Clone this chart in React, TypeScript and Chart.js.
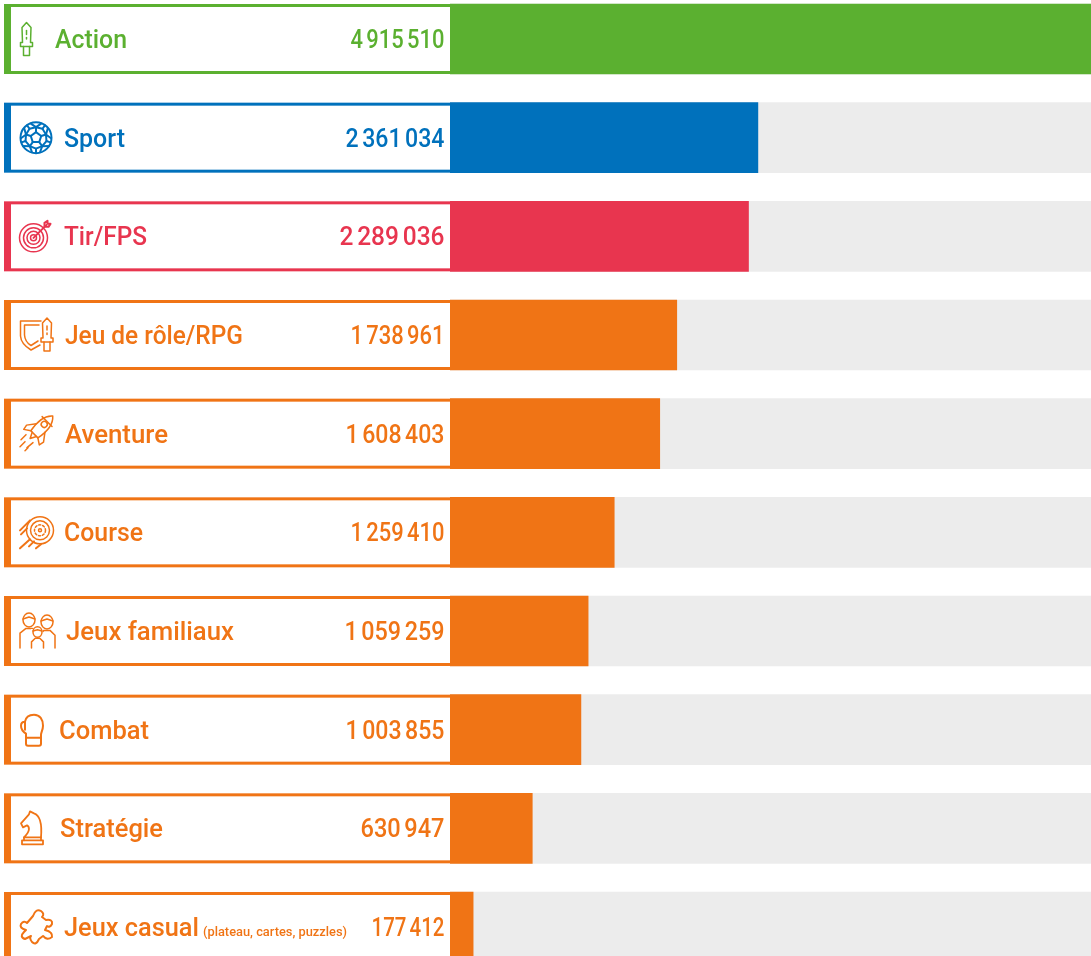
import React, { useEffect, useRef } from "react";
import { Chart, registerables } from "chart.js";

Chart.register(...registerables);

const categories = ["Action", "Sport", "Tir/FPS", "Jeu de rôle/RPG", "Aventure", "Course", "Jeux familiaux", "Combat", "Stratégie", "Jeux casual"];
const players = [4915510, 2361034, 2289036, 1738961, 1608403, 1259410, 1059259, 1003855, 630947, 177412];
const valueLabels = ["4 915 510", "2 361 034", "2 289 036", "1 738 961", "1 608 403", "1 259 410", "1 059 259", "1 003 855", "630 947", "177 412"];
const casualNote = "(plateau, cartes, puzzles)";
const trackMaximum = 4915510;

const GREEN = "#5bb030";
const BLUE = "#0071bc";
const RED = "#e8354f";
const ORANGE = "#f07415";
const TRACK = "#ececec";
const rowColors = [GREEN, BLUE, RED, ORANGE, ORANGE, ORANGE, ORANGE, ORANGE, ORANGE, ORANGE];

// text layout: [x, width]
const labelBoxes = [[55, 72], [64, 61], [64, 83], [65, 178], [65, 103], [64, 79], [66, 168], [59, 90], [60, 103], [64, 135]];
const valueWidths = [94, 99, 105, 94, 99, 94, 100, 99, 84, 73];
const FONT = "Roboto";

type C = CanvasRenderingContext2D;

function fitText(ctx: C, text: string, x: number, y: number, width: number, font: string, wordSpacing = "0px") {
  ctx.save();
  ctx.font = font;
  (ctx as any).wordSpacing = wordSpacing;
  const w = ctx.measureText(text).width;
  ctx.translate(x, y);
  ctx.scale(width / w, 1);
  ctx.textAlign = "left";
  ctx.textBaseline = "alphabetic";
  ctx.fillText(text, 0, 0);
  ctx.restore();
}

function poly(ctx: C, pts: number[][], close = false) {
  ctx.beginPath();
  pts.forEach((p, i) => (i ? ctx.lineTo(p[0], p[1]) : ctx.moveTo(p[0], p[1])));
  if (close) ctx.closePath();
  ctx.stroke();
}
function circle(ctx: C, x: number, y: number, r: number) {
  ctx.beginPath();
  ctx.arc(x, y, r, 0, Math.PI * 2);
  ctx.stroke();
}

function sword(ctx: C, cx: number, t: number) {
  poly(ctx, [[cx, t], [cx + 4.5, t + 5], [cx + 4, t + 20], [cx + 6, t + 20], [cx + 6, t + 24], [cx - 6, t + 24], [cx - 6, t + 20], [cx - 4, t + 20], [cx - 4.5, t + 5]], true);
  poly(ctx, [[cx - 3, t + 24], [cx - 3, t + 33], [cx + 3, t + 33], [cx + 3, t + 24]]);
  poly(ctx, [[cx, t + 8], [cx, t + 12]]);
  poly(ctx, [[cx, t + 15], [cx, t + 16.5]]);
}
function ball(ctx: C, cx: number, cy: number) {
  ctx.save();
  ctx.lineWidth = 2;
  circle(ctx, cx, cy, 15.5);
  const at = (r: number, k: number) => {
    const a = -Math.PI / 2 + (k * 2 * Math.PI) / 5;
    return [cx + r * Math.cos(a), cy + r * Math.sin(a)];
  };
  poly(ctx, [0, 1, 2, 3, 4].map((k) => at(5.5, k)), true);
  for (let k = 0; k < 5; k++) {
    poly(ctx, [at(5.5, k), at(10.5, k)]);
    const a = at(10.5, k);
    poly(ctx, [at(15, k - 0.28), a, at(15, k + 0.28)]);
    const m = at(11, k + 0.5);
    poly(ctx, [at(10.5, k), m, at(10.5, k + 1)]);
    poly(ctx, [m, at(15.2, k + 0.5)]);
  }
  ctx.restore();
}
function target(ctx: C, cx: number, cy: number) {
  circle(ctx, cx, cy, 14);
  circle(ctx, cx, cy, 10);
  circle(ctx, cx, cy, 6.5);
  circle(ctx, cx, cy, 3);
  ctx.save();
  ctx.lineWidth = 2;
  poly(ctx, [[cx, cy], [cx + 13, cy - 13]]);
  poly(ctx, [[cx + 11, cy - 15], [cx + 11, cy - 11], [cx + 15, cy - 11], [cx + 17, cy - 14], [cx + 14, cy - 14], [cx + 14, cy - 17], [cx + 11, cy - 15]]);
  ctx.restore();
}
function shield(ctx: C, t: number) {
  ctx.beginPath();
  ctx.moveTo(41, t + 21);
  ctx.lineTo(20.5, t + 21);
  ctx.lineTo(20.5, t + 36);
  ctx.quadraticCurveTo(21, t + 44, 31, t + 50);
  ctx.lineTo(40, t + 45);
  ctx.stroke();
  ctx.beginPath();
  ctx.moveTo(39, t + 25);
  ctx.lineTo(24.5, t + 25);
  ctx.lineTo(24.5, t + 35);
  ctx.quadraticCurveTo(25, t + 42, 31, t + 45.5);
  ctx.lineTo(38, t + 41);
  ctx.stroke();
  sword(ctx, 47, t + 18);
}
function rocket(ctx: C, t: number) {
  ctx.save();
  ctx.translate(40, t + 30);
  ctx.rotate(Math.PI / 4);
  ctx.beginPath();
  ctx.moveTo(0, -18);
  ctx.bezierCurveTo(7, -12, 7, -2, 5, 8);
  ctx.lineTo(-5, 8);
  ctx.bezierCurveTo(-7, -2, -7, -12, 0, -18);
  ctx.stroke();
  circle(ctx, 0, -6, 3);
  poly(ctx, [[-6, -1], [-12, 7], [-11, 12], [-5, 8]]);
  poly(ctx, [[6, -1], [12, 7], [11, 12], [5, 8]]);
  poly(ctx, [[-3, 8], [0, 14], [3, 8]]);
  poly(ctx, [[-7, -10], [7, -10]]);
  ctx.restore();
  poly(ctx, [[20, t + 48], [25, t + 43]]);
  poly(ctx, [[21, t + 41], [26, t + 36]]);
  poly(ctx, [[27, t + 49], [33, t + 44]]);
  poly(ctx, [[25, t + 52], [28, t + 49]]);
}
function wheel(ctx: C, t: number) {
  const cx = 40;
  const cy = t + 33;
  circle(ctx, cx, cy, 13.5);
  circle(ctx, cx, cy, 9.5);
  ctx.save();
  ctx.setLineDash([2, 2]);
  circle(ctx, cx, cy, 5.5);
  ctx.restore();
  circle(ctx, cx, cy, 1.5);
  ctx.save();
  ctx.lineWidth = 2;
  poly(ctx, [[30, t + 23], [20, t + 33]]);
  poly(ctx, [[27, t + 31], [21, t + 37]]);
  poly(ctx, [[30, t + 42], [20, t + 51]]);
  poly(ctx, [[34, t + 44], [29, t + 49]]);
  poly(ctx, [[41, t + 47], [36, t + 51]]);
  ctx.restore();
}
function person(ctx: C, cx: number, cy: number, r: number, bottom: number, half: number) {
  ctx.beginPath();
  ctx.ellipse(cx, cy, r, r * 1.15, 0, 0, Math.PI * 2);
  ctx.stroke();
  poly(ctx, [[cx - r, cy - 1], [cx, cy - r * 0.5], [cx + r, cy - 1]]);
  poly(ctx, [[cx - half, bottom], [cx - half, cy + r * 2.2], [cx - r * 0.5, cy + r * 1.4], [cx + r * 0.5, cy + r * 1.4], [cx + half, cy + r * 2.2], [cx + half, bottom]]);
}
function family(ctx: C, t: number) {
  person(ctx, 29, t + 24, 6, t + 52, 9);
  person(ctx, 47, t + 26, 6, t + 52, 8);
  ctx.save();
  ctx.fillStyle = "#fff";
  ctx.fillRect(31, t + 33, 12, 20);
  ctx.restore();
  person(ctx, 37.5, t + 36, 4.5, t + 52, 6);
}
function glove(ctx: C, t: number) {
  ctx.save();
  ctx.lineWidth = 2;
  ctx.beginPath();
  ctx.moveTo(26, t + 44);
  ctx.lineTo(26, t + 39);
  ctx.bezierCurveTo(23, t + 37, 21, t + 34, 21, t + 31);
  ctx.bezierCurveTo(21, t + 28, 23, t + 27, 25, t + 27);
  ctx.bezierCurveTo(26, t + 21, 30, t + 20, 34, t + 20);
  ctx.bezierCurveTo(40, t + 20, 43, t + 25, 43, t + 31);
  ctx.bezierCurveTo(43, t + 35, 41, t + 38, 41, t + 40);
  ctx.lineTo(41, t + 49);
  ctx.quadraticCurveTo(41, t + 51, 39, t + 51);
  ctx.lineTo(28, t + 51);
  ctx.quadraticCurveTo(26, t + 51, 26, t + 49);
  ctx.closePath();
  ctx.stroke();
  poly(ctx, [[26, t + 43], [41, t + 43]]);
  poly(ctx, [[25, t + 27], [25, t + 35]]);
  ctx.restore();
}
function knight(ctx: C, t: number) {
  ctx.save();
  ctx.lineWidth = 1.8;
  ctx.beginPath();
  ctx.moveTo(24, t + 44);
  ctx.bezierCurveTo(30, t + 38, 30, t + 34, 27, t + 32);
  ctx.lineTo(23, t + 34);
  ctx.lineTo(21, t + 30);
  ctx.lineTo(29, t + 21);
  ctx.lineTo(30, t + 18);
  ctx.lineTo(34, t + 20);
  ctx.bezierCurveTo(40, t + 22, 42, t + 32, 41, t + 44);
  ctx.closePath();
  ctx.stroke();
  ctx.strokeRect(22, t + 47, 21, 4);
  poly(ctx, [[24, t + 44], [24, t + 47]]);
  poly(ctx, [[41, t + 44], [41, t + 47]]);
  ctx.restore();
}
function puzzle(ctx: C, t: number) {
  ctx.save();
  ctx.lineWidth = 2;
  ctx.beginPath();
  ctx.moveTo(33, t + 24);
  ctx.quadraticCurveTo(36, t + 16, 41, t + 19);
  ctx.quadraticCurveTo(45, t + 22, 42, t + 25);
  ctx.lineTo(46, t + 28);
  ctx.quadraticCurveTo(53, t + 27, 52, t + 32);
  ctx.quadraticCurveTo(50, t + 36, 47, t + 34);
  ctx.lineTo(45, t + 38);
  ctx.quadraticCurveTo(53, t + 40, 52, t + 45);
  ctx.quadraticCurveTo(47, t + 49, 43, t + 44);
  ctx.lineTo(39, t + 47);
  ctx.quadraticCurveTo(36, t + 54, 32, t + 50);
  ctx.quadraticCurveTo(29, t + 46, 31, t + 44);
  ctx.lineTo(25, t + 47);
  ctx.quadraticCurveTo(19, t + 45, 24, t + 40);
  ctx.lineTo(26, t + 38);
  ctx.quadraticCurveTo(19, t + 36, 21, t + 32);
  ctx.quadraticCurveTo(24, t + 28, 27, t + 31);
  ctx.closePath();
  ctx.stroke();
  ctx.restore();
}

function drawIcon(ctx: C, i: number, t: number) {
  if (i === 0) sword(ctx, 26.5, t + 18.5);
  if (i === 1) ball(ctx, 36, t + 35);
  if (i === 2) target(ctx, 33.5, t + 36.5);
  if (i === 3) shield(ctx, t);
  if (i === 4) rocket(ctx, t);
  if (i === 5) wheel(ctx, t);
  if (i === 6) family(ctx, t);
  if (i === 7) glove(ctx, t);
  if (i === 8) knight(ctx, t);
  if (i === 9) puzzle(ctx, t);
}

const cardsPlugin = {
  id: "cards",
  afterDatasetsDraw(chart: any) {
    const ctx: C = chart.ctx;
    const yScale = chart.scales.y;
    categories.forEach((name, i) => {
      const t = yScale.getPixelForValue(i) - 35;
      const color = rowColors[i];
      ctx.save();
      ctx.fillStyle = color;
      ctx.fillRect(4, t, 446, 70);
      ctx.fillStyle = "#ffffff";
      ctx.fillRect(11, t + 3, 439, 64);
      ctx.fillStyle = color;
      ctx.strokeStyle = color;
      ctx.lineWidth = 1.5;
      ctx.lineJoin = "round";
      ctx.lineCap = "round";
      drawIcon(ctx, i, t);
      const base = t + 44;
      const [lx, lw] = labelBoxes[i];
      fitText(ctx, name, lx, base, lw, `500 26px ${FONT}`);
      if (i === 9) fitText(ctx, casualNote, 203, base, 144, `500 12.5px ${FONT}`);
      const w = valueWidths[i];
      fitText(ctx, valueLabels[i], 444.5 - w, base, w, `500 26px ${FONT}`, "-2.5px");
      ctx.restore();
    });
  },
};

export default function App() {
  const ref = useRef<HTMLCanvasElement>(null);
  useEffect(() => {
    const chart = new Chart(ref.current!, {
      type: "bar",
      data: {
        labels: categories,
        datasets: [
          { label: "Joueurs", data: players, backgroundColor: rowColors, barThickness: 70, grouped: false },
          { label: "Piste", data: categories.map(() => trackMaximum), backgroundColor: TRACK, barThickness: 70, grouped: false },
        ],
      },
      options: {
        indexAxis: "y",
        animation: false,
        responsive: false,
        devicePixelRatio: 1,
        layout: { padding: { left: 450, right: 0, top: 0.67, bottom: 0.67 } },
        plugins: { legend: { display: false }, tooltip: { enabled: false }, title: { display: false } },
        scales: {
          x: { display: false, min: 0, max: trackMaximum },
          y: { display: false, grid: { display: false } },
        },
      },
      plugins: [cardsPlugin],
    } as any);
    return () => chart.destroy();
  }, []);
  return (
    <div style={{ position: "absolute", left: 0, top: 0, width: 1091, height: 956, overflow: "hidden", background: "#fff" }}>
      <canvas ref={ref} width={1091} height={988} style={{ position: "absolute", left: 0, top: -11, display: "block" }} />
    </div>
  );
}
